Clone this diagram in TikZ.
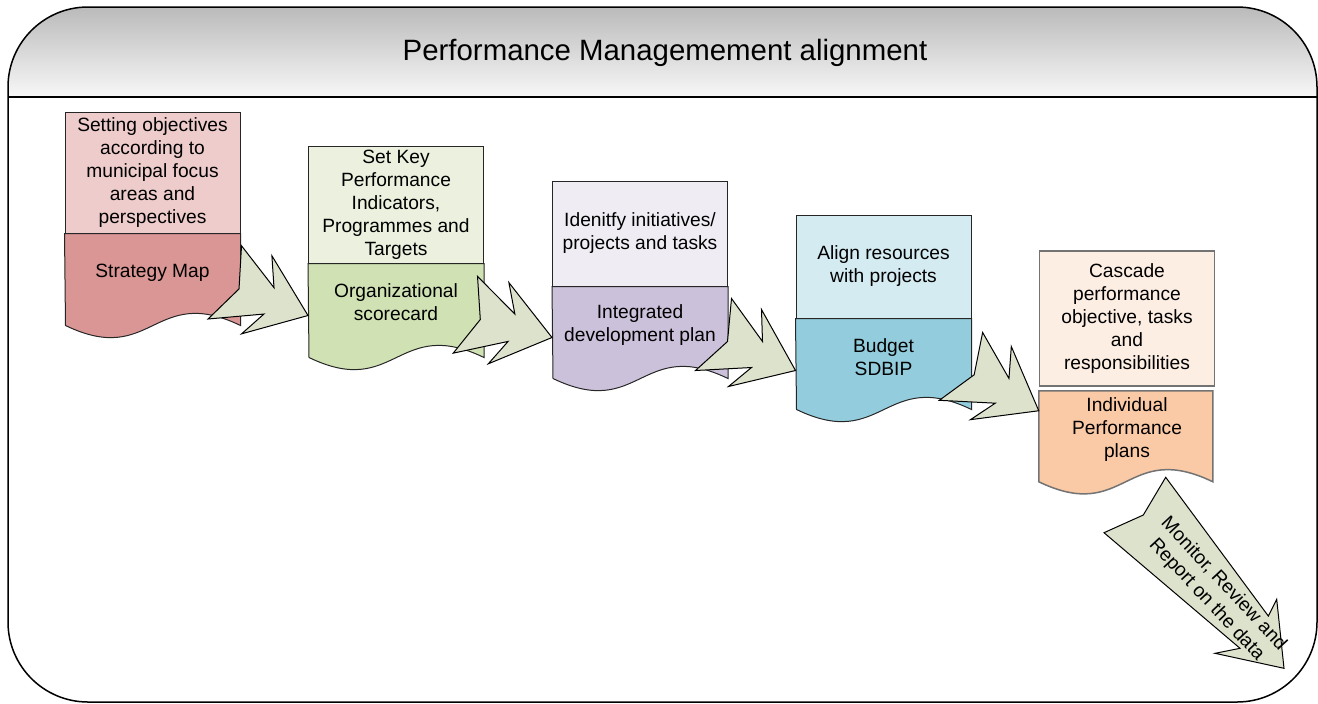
\documentclass[tikz,border=0pt]{standalone}
\usepackage{fontspec}
\setmainfont{Liberation Sans}
\usepackage{tikz}
\usetikzlibrary{positioning}

\definecolor{stratlight}{HTML}{EECCCB}
\definecolor{stratdark}{HTML}{D99694}
\definecolor{kpilight}{HTML}{EBF1DE}
\definecolor{kpidark}{HTML}{D0E1B4}
\definecolor{idplight}{HTML}{EFEDF3}
\definecolor{idpdark}{HTML}{CCC1DA}
\definecolor{budgetlight}{HTML}{D4EBF1}
\definecolor{budgetdark}{HTML}{93CDDD}
\definecolor{ipplight}{HTML}{FDEEE4}
\definecolor{ippdark}{HTML}{FAC9A5}
\definecolor{arrowgreen}{HTML}{DDE2CC}

\begin{document}
\begin{tikzpicture}[x=0.5pt, y=-0.5pt,
		objbox/.style={draw=black!85, line width=0.5pt, minimum width=87.5pt, inner sep=0pt, align=center, font=\fontsize{9.6}{11.5}\selectfont},
		doctext/.style={align=center, font=\fontsize{9.6}{11.5}\selectfont},
		docpart/.style={draw=black!85, line width=0.5pt},
		arrowshape/.style={fill=arrowgreen, draw=black, line width=0.5pt, line join=miter},
		jag/.pic={\filldraw[arrowshape] (-100,0) -- (-68,-29) -- (-64,-72) -- (-33,-29) -- (-34,-61) -- (0,0) -- (-67,16) -- (-44,-3) -- cycle;}
	]
	\useasboundingbox (0,0) rectangle (1318,703);

	% frame and title band
	\begin{scope}
		\clip[rounded corners=40pt] (8,7) rectangle (1317,702);
		\shade[top color=black!27, bottom color=black!3] (8,7) rectangle (1317,97);
	\end{scope}
	\draw[line width=0.75pt, rounded corners=40pt] (8,7) rectangle (1317,702);
	\draw[line width=0.75pt] (8,97) -- (1317,97);
	\node[font=\fontsize{14.7}{17}\selectfont] (title) at (665,53) {Performance Managemement alignment};

	% documents
	\node[objbox, fill=stratlight, minimum height=60.5pt] (obj1) at (152.5,172.5) {Setting objectives\\according to\\municipal focus\\areas and\\perspectives};
	\filldraw[docpart, fill=stratdark] (obj1.south west) -- (obj1.south east) -- ++(0,92) .. controls +(-87,-42) and +(87,42) .. ++(-175,0) -- cycle;
	\node[doctext] (map1) [below=19.5pt of obj1.south, anchor=center] {Strategy Map};

	\node[objbox, fill=kpilight, minimum height=58.5pt] (obj2) at (396,204.5) {Set Key\\Performance\\Indicators,\\Programmes and\\Targets};
	\filldraw[docpart, fill=kpidark] (obj2.south west) -- (obj2.south east) -- ++(0,94) .. controls +(-87,-42) and +(87,42) .. ++(-175,0) -- cycle;
	\node[doctext] (card2) [below=19.5pt of obj2.south, anchor=center] {Organizational\\scorecard};

	\node[objbox, fill=idplight, minimum height=52.5pt] (obj3) at (640,233.5) {Idenitfy initiatives/\\projects and tasks};
	\filldraw[docpart, fill=idpdark] (obj3.south west) -- (obj3.south east) -- ++(0,92) .. controls +(-87,-42) and +(87,42) .. ++(-175,0) -- cycle;
	\node[doctext] (plan3) [below=19.5pt of obj3.south, anchor=center] {Integrated\\development plan};

	\node[objbox, fill=budgetlight, minimum height=51.5pt] (obj4) at (883.5,266.5) {Align resources\\with projects};
	\filldraw[docpart, fill=budgetdark] (obj4.south west) -- (obj4.south east) -- ++(0,91) .. controls +(-87,-42) and +(87,42) .. ++(-175,0) -- cycle;
	\node[doctext] (budget4) [below=19.5pt of obj4.south, anchor=center] {Budget\\SDBIP};

	\node[objbox, draw=black!55, line width=0.75pt, fill=ipplight, minimum height=67.5pt] (obj5) at (1127,318.5) {Cascade\\performance\\objective, tasks\\and\\responsibilities};
	\filldraw[docpart, draw=black!55, line width=0.75pt, fill=ippdark] (obj5.south west) ++(0,4) -- ++(174,0) -- ++(0,91) .. controls +(-87,-42) and +(87,42) .. ++(-174,0) -- cycle;
	\node[doctext] (ipp5) [below=21.5pt of obj5.south, anchor=center] {Individual\\Performance\\plans};

	% arrows between documents
	\pic[rotate=2] at ([yshift=-26pt]obj2.south west) {jag};
	\pic[rotate=9] at ([yshift=-25.5pt]obj3.south west) {jag};
	\pic at ([yshift=-26pt]obj4.south west) {jag};
	\pic[rotate=-6] at ([yshift=-12pt]obj5.south west) {jag};

	\filldraw[arrowshape] (1165.7,477.3) -- (1268.3,616) -- (1276.7,599.3) -- (1284,668.3) -- (1215,653.3) -- (1240,648.3) -- (1104,532.7) -- (1143.3,515) -- cycle;
	\node[doctext, rotate=-47] (monitor) at (1215,592) {Monitor, Review and\\Report on the data};
\end{tikzpicture}
\end{document}
